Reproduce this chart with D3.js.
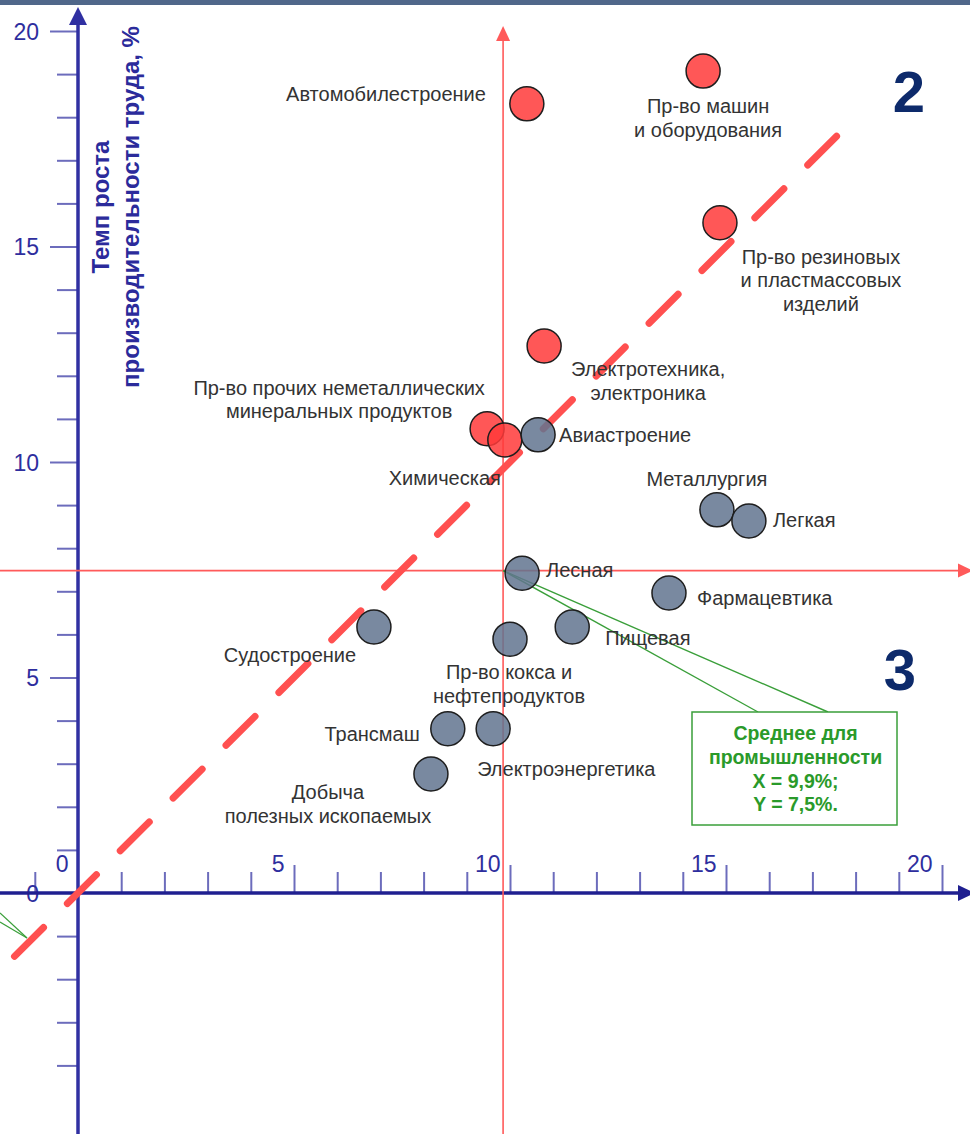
<!DOCTYPE html>
<html>
<head>
<meta charset="utf-8">
<script src="https://cdn.jsdelivr.net/npm/d3@7"></script>
<style>
  html, body { margin: 0; padding: 0; background: #ffffff; }
  svg { display: block; }
  text { font-family: "Liberation Sans", Arial, sans-serif; }
</style>
</head>
<body>
<svg id="chart" width="970" height="1134"></svg>
<script>
// ---------- DATA ----------
const categories = [
  "Автомобилестроение",
  "Пр-во машин\nи оборудования",
  "Пр-во резиновых\nи пластмассовых\nизделий",
  "Электротехника,\nэлектроника",
  "Пр-во прочих неметаллических\nминеральных продуктов",
  "Химическая",
  "Авиастроение",
  "Металлургия",
  "Легкая",
  "Лесная",
  "Фармацевтика",
  "Судостроение",
  "Пищевая",
  "Пр-во кокса и\nнефтепродуктов",
  "Трансмаш",
  "Электроэнергетика",
  "Добыча\nполезных ископаемых"
];
const xValues = [10.39, 14.47, 14.86, 10.79, 9.47, 9.88, 10.65, 14.79, 15.53, 10.28, 13.68, 6.85, 11.44, 10.00, 8.56, 9.61, 8.17];
const yValues = [18.31, 19.07, 15.55, 12.69, 10.77, 10.51, 10.63, 8.89, 8.63, 7.42, 6.96, 6.17, 6.17, 5.89, 3.81, 3.81, 2.76];
const groups  = ["high","high","high","high","high","high","low","low","low","low","low","low","low","low","low","low","low"];

const meanX = 9.84, meanY = 7.48;
const meanText = ["Среднее для", "промышленности", "X = 9,9%;", "Y = 7,5%."];
const trendX = [-1.47, 17.56];
const trendY = [-1.47, 17.56];

const xTickValues = d3.range(-1, 21);
const xMajorTicks = [0, 5, 10, 15, 20];
const yTickValues = d3.range(-4, 21);
const yMajorTicks = [0, 5, 10, 15, 20];
const yTitle = ["Темп роста", "производительности труда, %"];
const quadrantLabels = ["2", "3"];

// ---------- LAYOUT (label offsets from point centres) ----------
const labelLayout = [
  {dx: -41, dy: -10, anchor: "end"},
  {dx: 5, dy: 35, anchor: "middle"},
  {dx: 101, dy: 34, anchor: "middle"},
  {dx: 104, dy: 23, anchor: "middle"},
  {dx: -148, dy: -41, anchor: "middle"},
  {dx: -60, dy: 38, anchor: "middle"},
  {dx: 21, dy: 0, anchor: "start"},
  {dx: -10, dy: -31, anchor: "middle"},
  {dx: 24, dy: -1, anchor: "start"},
  {dx: 24, dy: -3, anchor: "start"},
  {dx: 28, dy: 5, anchor: "start"},
  {dx: -84, dy: 28, anchor: "middle"},
  {dx: 33, dy: 11, anchor: "start"},
  {dx: -1, dy: 33, anchor: "middle"},
  {dx: -28, dy: 5, anchor: "end"},
  {dx: -16, dy: 40, anchor: "start"},
  {dx: -103, dy: 18, anchor: "middle"}
];

const W = 970, H = 1134;
const svg = d3.select("#chart");

const x = d3.scaleLinear().domain([0, 20]).range([78, 942]);
const y = d3.scaleLinear().domain([0, 20]).range([893, 31]);

const AXIS_X = "#1f1f90";
const AXIS_Y = "#3030a2";
const TICK = "#6c6cbc";
const TLBL = "#2e2e9e";

// top band
svg.append("rect").attr("x", 0).attr("y", 0).attr("width", W).attr("height", 5).attr("fill", "#50678a");

// ---------- X axis ----------
const gx = svg.append("g").attr("transform", `translate(0,${y(0)})`);
const xMinor = d3.axisTop(x).tickValues(xTickValues.filter(v => v !== 0 && !xMajorTicks.includes(v)))
  .tickSize(21).tickSizeOuter(0).tickFormat("");
const xMajor = d3.axisTop(x).tickValues(xMajorTicks.filter(v => v !== 0))
  .tickSize(28).tickSizeOuter(0).tickFormat("");
gx.append("g").call(xMinor);
gx.append("g").call(xMajor);
gx.selectAll(".domain").remove();
gx.selectAll(".tick line").attr("stroke", TICK).attr("stroke-width", 2);
const xLabels = d3.axisTop(x).tickValues(xMajorTicks).tickSize(0).tickSizeOuter(0).tickFormat(d3.format("d"));
const gxl = gx.append("g").call(xLabels);
gxl.select(".domain").remove();
gxl.selectAll(".tick text")
  .attr("text-anchor", "end").attr("dx", -10).attr("y", -29).attr("dy", 0)
  .attr("dominant-baseline", "central")
  .attr("font-size", 23).attr("font-family", "Liberation Sans, Arial, sans-serif")
  .attr("fill", TLBL);

// ---------- Y axis ----------
const gy = svg.append("g").attr("transform", `translate(${x(0)},0)`);
const yMinor = d3.axisLeft(y).tickValues(yTickValues.filter(v => v !== 0 && !yMajorTicks.includes(v)))
  .tickSize(21).tickSizeOuter(0).tickFormat("");
const yMajor = d3.axisLeft(y).tickValues(yMajorTicks.filter(v => v !== 0))
  .tickSize(28).tickSizeOuter(0).tickFormat("");
gy.append("g").call(yMinor);
gy.append("g").call(yMajor);
gy.selectAll(".domain").remove();
gy.selectAll(".tick line").attr("stroke", TICK).attr("stroke-width", 2);
const yLabels = d3.axisLeft(y).tickValues(yMajorTicks).tickSize(28).tickPadding(11).tickFormat(d3.format("d"));
const gyl = gy.append("g").call(yLabels);
gyl.select(".domain").remove();
gyl.selectAll(".tick line").remove();
gyl.selectAll(".tick text")
  .attr("dy", 0).attr("dominant-baseline", "central")
  .attr("font-size", 23).attr("font-family", "Liberation Sans, Arial, sans-serif")
  .attr("fill", TLBL);

// axis lines with arrows
svg.append("line").attr("x1", 0).attr("x2", W - 10).attr("y1", y(0)).attr("y2", y(0))
  .attr("stroke", AXIS_X).attr("stroke-width", 3.5);
svg.append("path").attr("d", `M${W - 12},${y(0) - 8} L${W + 5},${y(0)} L${W - 12},${y(0) + 8} Z`).attr("fill", AXIS_X);
svg.append("line").attr("x1", x(0)).attr("x2", x(0)).attr("y1", H).attr("y2", 20)
  .attr("stroke", AXIS_Y).attr("stroke-width", 3.5);
svg.append("path").attr("d", `M${x(0) - 9},25 L${x(0)},7 L${x(0) + 9},25 Z`).attr("fill", AXIS_Y);

// ---------- mean lines ----------
const MEAN = "#ff5a5a";
svg.append("line").attr("x1", x(meanX)).attr("x2", x(meanX)).attr("y1", H).attr("y2", 36)
  .attr("stroke", MEAN).attr("stroke-width", 1.6);
svg.append("path").attr("d", `M${x(meanX) - 7},41 L${x(meanX)},26 L${x(meanX) + 7},41 Z`).attr("fill", MEAN);
svg.append("line").attr("x1", 0).attr("x2", W - 8).attr("y1", y(meanY)).attr("y2", y(meanY))
  .attr("stroke", MEAN).attr("stroke-width", 1.6);
svg.append("path").attr("d", `M${W - 12},${y(meanY) - 7} L${W + 3},${y(meanY)} L${W - 12},${y(meanY) + 7} Z`).attr("fill", MEAN);

// ---------- trend (dashed) ----------
const trend = trendX.map((v, i) => [v, trendY[i]]);
svg.append("path").datum(trend)
  .attr("d", d3.line().x(d => x(d[0])).y(d => y(d[1])))
  .attr("fill", "none").attr("stroke", "#ff5050").attr("stroke-width", 7)
  .attr("stroke-linecap", "round").attr("stroke-dasharray", "41,33.7");

// ---------- callout pointers ----------
const GREEN = "#3a9f3a";
const tipX = x(meanX), tipY = y(meanY);
const box = {x: 692, y: 712, w: 205, h: 113};
svg.append("line").attr("x1", tipX).attr("y1", tipY).attr("x2", 758).attr("y2", box.y)
  .attr("stroke", GREEN).attr("stroke-width", 1.4);
svg.append("line").attr("x1", tipX).attr("y1", tipY).attr("x2", 828).attr("y2", box.y)
  .attr("stroke", GREEN).attr("stroke-width", 1.4);
svg.append("line").attr("x1", 0).attr("y1", 913).attr("x2", 27).attr("y2", 938)
  .attr("stroke", GREEN).attr("stroke-width", 1.2);
svg.append("line").attr("x1", 0).attr("y1", 922).attr("x2", 27).attr("y2", 938)
  .attr("stroke", GREEN).attr("stroke-width", 1.2);

// ---------- points ----------
const pts = categories.map((c, i) => ({name: c, xv: xValues[i], yv: yValues[i], g: groups[i], lay: labelLayout[i]}));
svg.append("g").selectAll("circle").data(pts).join("circle")
  .attr("cx", d => x(d.xv)).attr("cy", d => y(d.yv)).attr("r", 17)
  .attr("fill", d => d.g === "high" ? "#ff3a3a" : "#62748f")
  .attr("fill-opacity", 0.85)
  .attr("stroke", "#1e1e1e").attr("stroke-width", 1.5);

// labels
const LH = 23.5;
const lg = svg.append("g");
pts.forEach(d => {
  const lines = d.name.split("\n");
  const t = lg.append("text")
    .attr("x", x(d.xv) + d.lay.dx).attr("y", y(d.yv) + d.lay.dy)
    .attr("text-anchor", d.lay.anchor).attr("font-size", 20).attr("fill", "#333333")
    .attr("dominant-baseline", "central");
  lines.forEach((ln, k) => {
    t.append("tspan").attr("x", x(d.xv) + d.lay.dx).attr("y", y(d.yv) + d.lay.dy + k * LH).text(ln);
  });
});

// callout box
svg.append("rect").attr("x", box.x).attr("y", box.y).attr("width", box.w).attr("height", box.h)
  .attr("fill", "#ffffff").attr("stroke", GREEN).attr("stroke-width", 1.5);
const ct = svg.append("text").attr("text-anchor", "middle").attr("font-size", 19.5).attr("font-weight", "bold")
  .attr("fill", "#2a9a2a").attr("dominant-baseline", "central");
meanText.forEach((ln, k) => {
  ct.append("tspan").attr("x", box.x + box.w / 2 + 1).attr("y", box.y + 21 + k * 23.8).text(ln);
});

// quadrant numbers
const qpos = [[909, 91], [900, 669]];
quadrantLabels.forEach((q, i) => {
  svg.append("text").attr("x", qpos[i][0]).attr("y", qpos[i][1])
    .attr("text-anchor", "middle").attr("dominant-baseline", "central")
    .attr("font-size", 58).attr("font-weight", "bold").attr("fill", "#0d2a6b").text(q);
});

// y-axis title
const yt = svg.append("text").attr("transform", "rotate(-90)")
  .attr("text-anchor", "middle").attr("font-size", 24).attr("font-weight", "bold")
  .attr("fill", "#2b2b9b").attr("dominant-baseline", "central");
yTitle.forEach((ln, k) => {
  yt.append("tspan").attr("x", -207).attr("y", 100 + k * 30).text(ln);
});
</script>
</body>
</html>
